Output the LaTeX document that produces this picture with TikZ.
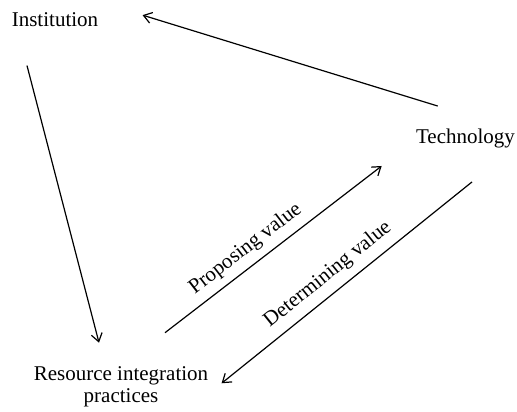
\documentclass[tikz,border=0pt]{standalone}
\usepackage{fontspec}
\setmainfont{Liberation Serif}
\usepackage{xcolor}
\usepackage{tikz}
\usetikzlibrary{
    arrows.meta,
    positioning
}
\definecolor{valink}{HTML}{000000}
\tikzset{
    % Plain text concept
    conceptnode/.style={
        rectangle,
        draw=none,
        text=valink,
        font=\fontsize{10.5}{11}\selectfont,
        inner sep=0pt,
        align=center
    },
    % Arrow style
    valarrow/.style={
        -{Straight Barb[length=4pt,width=5.5pt]},
        line width=0.6pt,
        color=#1
    },
    valarrow/.default=valink,
    % Sloped label on an arrow
    vallabel/.style={
        sloped,
        above=#1,
        text=valink,
        font=\fontsize{10.5}{11}\selectfont,
        inner sep=0pt
    },
    vallabel/.default=4pt
}

\begin{document}
\begin{tikzpicture}[x=0.5pt,y=-0.5pt]
    \useasboundingbox (0,0) rectangle (517,411);
    \node[conceptnode, anchor=base] (inst) at (55,27) {Institution};
    \node[conceptnode, anchor=base] (tech) at (465.5,143) {Technology};
    \node[conceptnode, anchor=base] (rip) at (121,402) {Resource integration\\practices};

    \draw[valarrow] ([shift={(22,-22)}]tech.north west) -- ([shift={(44,-5)}]inst.east);
    \draw[valarrow] ([shift={(-28,38)}]inst.south) -- ([shift={(-22,-23)}]rip.north);
    \draw[valarrow] ([shift={(44,-33)}]rip.north) -- ([shift={(-34,28)}]tech.west)
        node[vallabel=3.5pt, pos=0.42] {Proposing value};
    \draw[valarrow] ([shift={(6.5,34)}]tech.south) -- ([shift={(13,-3)}]rip.east)
        node[vallabel=4pt, pos=0.53] {Determining value};
\end{tikzpicture}
\end{document}
